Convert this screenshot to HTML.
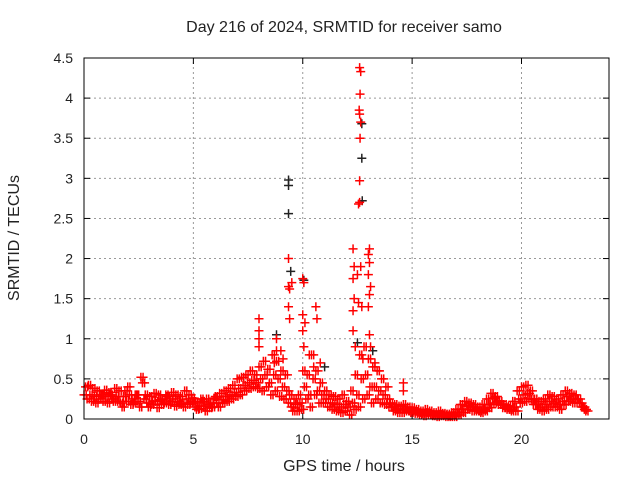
<!DOCTYPE html>
<html><head><meta charset="utf-8"><style>
body{margin:0;background:#fff}
text{font-family:"Liberation Sans",sans-serif;font-size:14px;fill:#222}
.big{font-size:16px}
</style></head><body>
<svg id="chart" width="640" height="480" xmlns="http://www.w3.org/2000/svg">
<rect width="640" height="480" fill="#fff"/>
<text class="big" x="344" y="32" text-anchor="middle">Day 216 of 2024, SRMTID for receiver samo</text>
<text class="big" x="344" y="471" text-anchor="middle">GPS time / hours</text>
<text class="big" transform="translate(19,238) rotate(-90)" text-anchor="middle">SRMTID / TECUs</text>
<g id="grid"></g>
<g id="ticks"></g>
<g id="pts"></g>
<rect x="84" y="58" width="525" height="361" fill="none" stroke="#000" stroke-width="1"/>
</svg>
<script>
const xTicks=[0,5,10,15,20];
const yTicks=[0,0.5,1,1.5,2,2.5,3,3.5,4,4.5];
const yTickLabels=["0","0.5","1","1.5","2","2.5","3","3.5","4","4.5"];
const step=0.2;
const seriesA=[.30,.42,.38,.35,.30,.28,.30,.38,.35,.28,.40,.25,.30,.52,.30,.28,.32,.30,.25,.28,.33,.30,.28,.35,.30,.22,.20,.22,.25,.20,.28,.32,.35,.38,.42,.50,.52,.55,.60,.55,.65,.72,.62,.80,.72,.60,.55,.30,.25,.30,.60,.55,.80,.60,.45,.35,.30,.28,.25,.30,.22,.35,.55,.80,.90,.75,.65,.60,.50,.40,.20,.18,.16,.18,.15,.14,.12,.10,.12,.10,.08,.10,.07,.06,.08,.12,.18,.22,.20,.18,.15,.18,.25,.32,.28,.22,.18,.16,.22,.35,.40,.42,.35,.25,.22,.25,.30,.28,.25,.30,.35,.32,.30,.25,.15];
const seriesB=[.40,.30,.28,.25,.22,.20,.25,.28,.20,.35,.30,.20,.22,.45,.20,.18,.22,.24,.20,.18,.25,.22,.20,.25,.20,.15,.13,.16,.18,.15,.20,.24,.28,.30,.33,.38,.42,.45,.48,.45,.50,.55,.45,.55,.50,.40,.35,.15,.18,.20,.40,.30,.50,.35,.30,.25,.20,.18,.15,.18,.15,.20,.30,.50,.55,.40,.40,.35,.30,.25,.15,.12,.12,.12,.10,.10,.08,.07,.08,.06,.05,.06,.05,.04,.05,.08,.12,.16,.15,.12,.10,.12,.18,.26,.22,.18,.14,.12,.15,.25,.30,.32,.25,.18,.15,.18,.22,.20,.18,.22,.28,.25,.25,.20,.12];
const seriesC=[.25,.22,.20,.30,.36,.33,.22,.22,.15,.22,.18,.30,.15,.25,.15,.22,.14,.18,.30,.22,.16,.18,.15,.18,.26,.12,.25,.10,.14,.26,.15,.20,.22,.25,.28,.30,.35,.38,.40,.38,.35,.40,.30,.35,.28,.25,.20,.10,.10,.12,.25,.15,.30,.20,.20,.15,.12,.10,.08,.10,.05,.12,.15,.25,.30,.20,.25,.20,.18,.15,.10,.08,.08,.10,.08,.07,.05,.04,.05,.04,.03,.04,.03,.03,.03,.05,.08,.12,.10,.10,.08,.10,.14,.20,.18,.14,.12,.10,.10,.20,.22,.25,.18,.12,.10,.12,.15,.15,.12,.18,.22,.20,.20,.15,.10];
const spikeT=[8.0,8.0,8.0,8.0,8.8,8.8,8.7,9.0,9.1,9.35,9.4,9.35,9.4,9.35,9.5,10.0,10.05,10.0,10.1,10.0,10.05,10.3,10.5,10.6,10.65,10.8,12.3,12.35,12.3,12.35,12.3,12.3,12.4,12.6,12.65,12.62,12.58,12.6,12.65,12.62,12.6,12.6,12.55,12.65,12.5,12.55,12.7,12.75,13.05,13.0,13.05,13.0,13.1,13.05,13.0,13.05,13.1,13.3,13.5,14.6,14.6];
const spikeV=[1.25,1.1,1.0,0.9,1.0,0.85,0.7,0.85,0.75,2.0,1.62,1.4,1.25,1.65,1.7,1.75,1.7,1.3,1.2,1.1,0.9,0.8,0.65,1.4,1.25,0.7,2.12,1.9,1.75,1.5,1.35,1.1,0.9,4.38,4.33,4.05,3.85,3.8,3.7,3.5,2.97,2.7,2.68,1.9,1.8,1.45,1.4,0.75,2.12,2.05,1.95,1.8,1.65,1.55,1.4,1.05,0.9,0.7,0.6,0.45,0.35];
const blackT=[9.35,9.35,9.35,9.45,10.05,12.7,12.72,12.7,8.8,11.0,13.2,12.5];
const blackV=[2.98,2.91,2.56,1.84,1.73,3.25,2.72,3.68,1.05,0.65,0.85,0.95];
const X0=84,X1=609,Y0=419,Y1=58,XMAX=24,YMAX=4.5;
const xs=v=>X0+(X1-X0)*v/XMAX, ys=v=>Y0-(Y0-Y1)*v/YMAX;
const NS="http://www.w3.org/2000/svg";
const grid=document.getElementById('grid'),ticks=document.getElementById('ticks'),pts=document.getElementById('pts');
function ln(p,x1,y1,x2,y2,st,dash){const l=document.createElementNS(NS,'line');l.setAttribute('x1',x1);l.setAttribute('y1',y1);l.setAttribute('x2',x2);l.setAttribute('y2',y2);l.setAttribute('stroke',st);if(dash)l.setAttribute('stroke-dasharray',dash);p.appendChild(l);return l;}
function tx(s,x,y,a){const t=document.createElementNS(NS,'text');t.textContent=s;t.setAttribute('x',x);t.setAttribute('y',y);t.setAttribute('text-anchor',a);ticks.appendChild(t);return t;}
xTicks.forEach(v=>{const x=xs(v);
 if(v>0){const g=ln(grid,x,Y0,x,Y1,'#999','2,3');
 
 }
 ln(ticks,x,Y0,x,Y0-6,'#000');ln(ticks,x,Y1,x,Y1+6,'#000');
 const t=tx(String(v),x,444,'middle');
 
 });
yTicks.forEach((v,i)=>{const y=ys(v);
 if(v>0&&v<YMAX){const g=ln(grid,X0,y,X1,y,'#999','2,3');
 
 }
 ln(ticks,X0,y,X0+6,y,'#000');ln(ticks,X1,y,X1-6,y,'#000');
 const t=tx(yTickLabels[i],73,y+5,'end');
 
 });
function plus(t,v,c){const x=xs(t),y=ys(v);const g=document.createElementNS(NS,'path');
 g.setAttribute('d',`M${x-4.5},${y}H${x+4.5}M${x},${y-4.5}V${y+4.5}`);g.setAttribute('stroke',c);g.setAttribute('stroke-width','1.5');
 
 
 pts.appendChild(g);}
[seriesA,seriesB,seriesC].forEach((s,k)=>s.forEach((v,i)=>{
 plus(i*step+k*0.07,v,'#f00');
 plus(i*step+k*0.07+0.1,v,'#f00');
}));
blackT.forEach((t,i)=>plus(t,blackV[i],'#222'));
spikeT.forEach((t,i)=>plus(t,spikeV[i],'#f00'));
</script>
</body></html>
